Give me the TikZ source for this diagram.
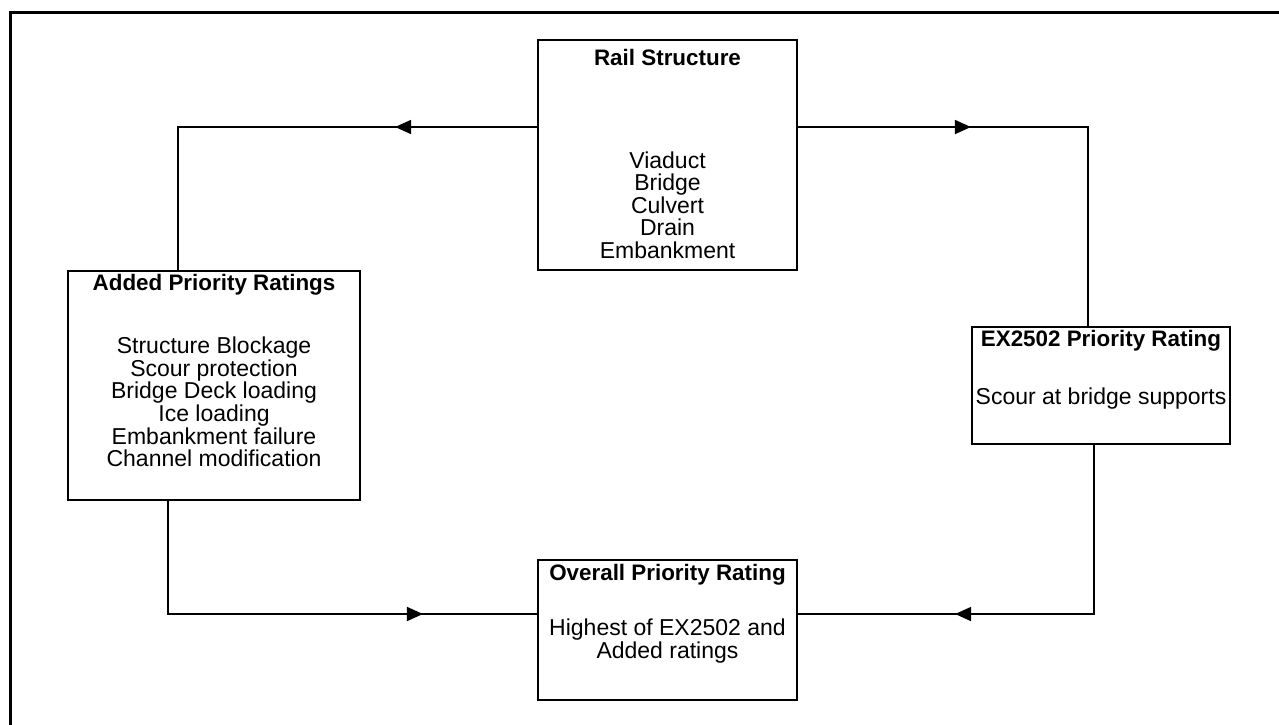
\documentclass[tikz,border=0pt]{standalone}
\usepackage{fontspec}
\setmainfont{Liberation Sans}
\usetikzlibrary{arrows.meta,decorations.markings,calc}
\begin{document}
\begin{tikzpicture}[x=1pt,y=-1pt,
  box/.style={draw,line width=1.8pt,inner sep=0pt},
  ttl/.style={font=\fontsize{22.4}{23}\selectfont\bfseries,inner sep=0pt},
  body/.style={font=\fontsize{23}{22.6}\selectfont,align=center,inner sep=0pt},
  conn/.style={line width=1.8pt},
  arrowat/.style={postaction={decorate},decoration={markings,mark=at position #1 with {\arrow{Triangle[length=16pt,width=14pt]}}}}]
\clip (0,0) rectangle (1279,724);
\fill[white] (0,0) rectangle (1279,724);
\draw[line width=3pt] (1300,12.5) -- (10,12.5) -- (10,740);

% boxes
\node[box,minimum width=259pt,minimum height=230pt] (rail) at (667.5,155) {};
\node[box,minimum width=292pt,minimum height=229pt] (added) at (214,385.5) {};
\node[box,minimum width=258pt,minimum height=117pt] (ex) at (1101,385.5) {};
\node[box,minimum width=259pt,minimum height=140pt] (overall) at (667.5,630) {};

% texts
\node[ttl] (railT) at (667.5,57) {Rail Structure};
\node[body] (railB) at (667.5,205) {Viaduct\\Bridge\\Culvert\\Drain\\Embankment};
\node[ttl] (addedT) at (214,285) {Added Priority Ratings};
\node[body] (addedB) at (214,402) {Structure Blockage\\Scour protection\\Bridge Deck loading\\Ice loading\\Embankment failure\\Channel modification};
\node[ttl] (exT) at (1101,341) {EX2502 Priority Rating};
\node[body] (exB) at (1101,399) {Scour at bridge supports};
\node[ttl] (overallT) at (667.5,575) {Overall Priority Rating};
\node[body] (overallB) at (667.5,641) {Highest of EX2502 and\\Added ratings};

% connector corners
\coordinate (c1) at (178,127);
\coordinate (c2) at (1088,127);
\coordinate (c3) at (1094,614);
\coordinate (c4) at (168,614);

\draw[conn,arrowat=142pt] (c1 -| rail.west) -- (c1) -- (c1 |- added.north);
\draw[conn,arrowat=173pt] (c2 -| rail.east) -- (c2) -- (c2 |- ex.north);
\draw[conn,arrowat=308pt] (c3 |- ex.south) -- (c3) -- (c3 -| overall.east);
\draw[conn,arrowat=368pt] (c4 |- added.south) -- (c4) -- (c4 -| overall.west);
\end{tikzpicture}
\end{document}
